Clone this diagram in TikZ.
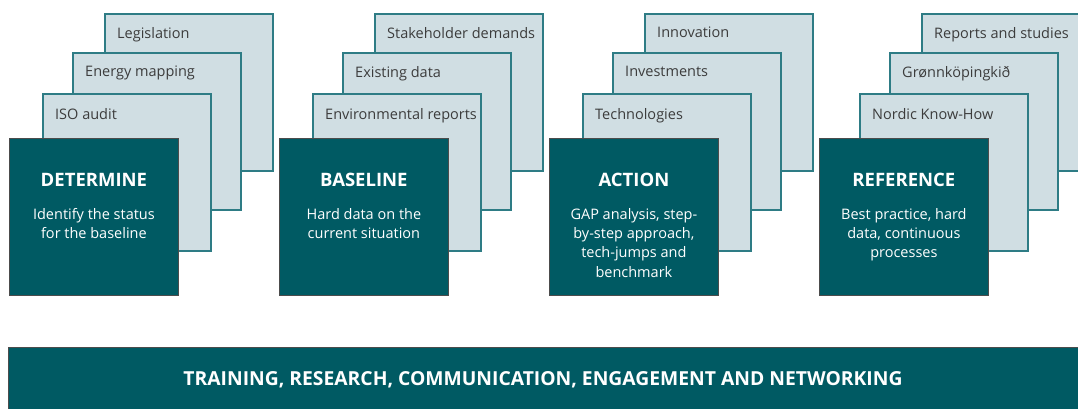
\documentclass[tikz,border=0pt]{standalone}
\usepackage{fontspec}
\setmainfont{Open Sans}
\usetikzlibrary{positioning}
\definecolor{darkteal}{HTML}{005A63}
\definecolor{paleblue}{HTML}{D0DEE3}
\definecolor{edgeteal}{HTML}{2E7C85}
\definecolor{labelgray}{HTML}{3C3C3C}
\tikzset{
  backbox/.style={draw=edgeteal, line width=1.5pt, fill=paleblue, anchor=north west,
    minimum width=168pt, minimum height=157pt, inner sep=0pt},
  frontbox/.style={draw=gray!60!black, line width=0.8pt, fill=darkteal, anchor=north west,
    minimum width=169pt, minimum height=157pt, inner sep=0pt},
  backlabel/.style={text=labelgray, inner sep=0pt, font=\fontsize{14.5}{17}\selectfont},
  stagetitle/.style={text=white, inner sep=0pt, font=\fontsize{18.5}{22}\selectfont\bfseries},
  fronttext/.style={text=white, align=center, inner sep=0pt, font=\fontsize{14.5}{19.3}\selectfont},
  bannerbox/.style={draw=gray!60!black, line width=0.8pt, fill=darkteal, anchor=north west,
    minimum width=1074pt, minimum height=64pt, inner sep=0pt}
}
\begin{document}
\begin{tikzpicture}[x=1pt, y=-1pt]
  \useasboundingbox (0,0) rectangle (1078,408);
    \foreach \i/\nx/\ttl/\txt/\la/\lb/\lc in {
      0/0/DETERMINE/{Identify the status\\for the baseline}/ISO audit/Energy mapping/Legislation,
      1/0/BASELINE/{Hard data on the\\current situation}/Environmental reports/Existing data/Stakeholder demands,
      2/0/ACTION/{GAP analysis, step-\\by-step approach,\\tech-jumps and\\benchmark}/Technologies/Investments/Innovation,
      3/7/REFERENCE/{Best practice, hard\\data, continuous\\processes}/Nordic Know-How/Grønnköpingkið/Reports and studies}{
      \begin{scope}[shift={(270*\i,0)}]
        \node[backbox] (back\i c) at (104+\nx, 13) {};
        \node[backlabel, below right=14pt and 13pt of back\i c.north west] (lab\i c) {\lc};
        \node[backbox] (back\i b) at (72+\nx, 52) {};
        \node[backlabel, below right=14pt and 13pt of back\i b.north west] (lab\i b) {\lb};
        \node[backbox] (back\i a) at (42+\nx, 93) {};
        \node[backlabel, below right=15pt and 13pt of back\i a.north west] (lab\i a) {\la};
        \node[frontbox] (stage\i) at (9, 138) {};
        \node[stagetitle] (title\i) at ([yshift=-42pt]stage\i.north) {\ttl};
        \node[fronttext, below=21pt of title\i] (text\i) {\txt};
      \end{scope}
    }
    \node[bannerbox] (banner) at (8, 347) {};
    \node[text=white, inner sep=0pt, font=\fontsize{19.3}{22}\selectfont\bfseries] (bannertext) at (543, 380)
      {TRAINING, RESEARCH, COMMUNICATION, ENGAGEMENT AND NETWORKING};
\end{tikzpicture}
\end{document}
